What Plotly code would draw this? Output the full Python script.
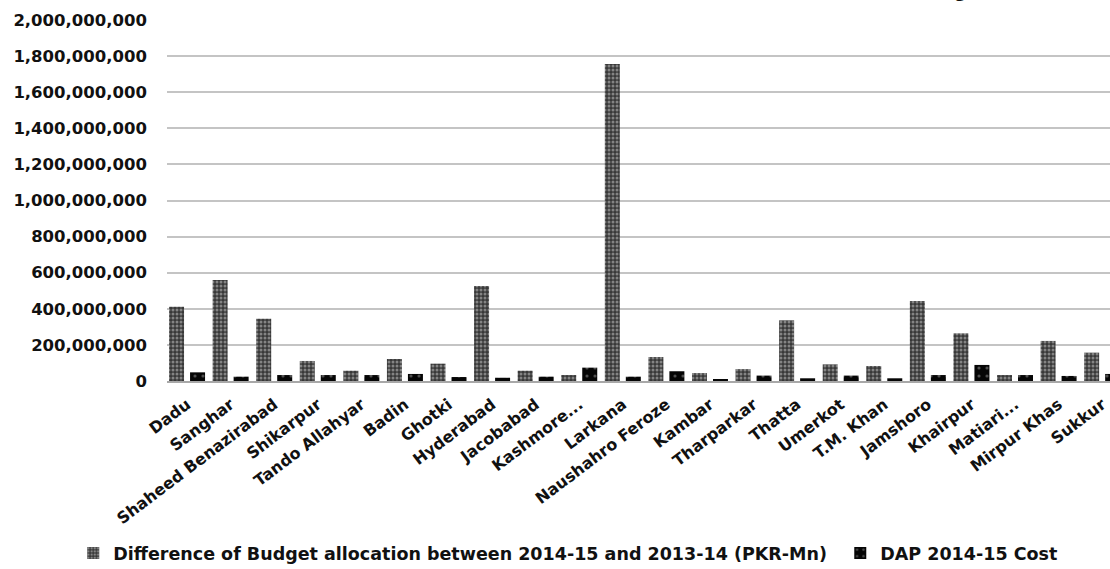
import plotly.graph_objects as go

# Districts of Sindh
districts = [
    "Dadu", "Sanghar", "Shaheed Benazirabad", "Shikarpur", "Tando Allahyar",
    "Badin", "Ghotki", "Hyderabad", "Jacobabad", "Kashmore...", "Larkana",
    "Naushahro Feroze", "Kambar", "Tharparkar", "Thatta", "Umerkot",
    "T.M. Khan", "Jamshoro", "Khairpur", "Matiari...", "Mirpur Khas", "Sukkur",
]

# Difference of budget allocation between 2014-15 and 2013-14
budget_difference = [
    411_000_000, 559_000_000, 345_000_000, 111_000_000, 57_000_000,
    122_000_000, 96_000_000, 526_000_000, 57_000_000, 33_000_000,
    1_756_000_000, 133_000_000, 44_000_000, 66_000_000, 336_000_000,
    92_000_000, 83_000_000, 443_000_000, 264_000_000, 33_000_000,
    222_000_000, 157_000_000,
]

# DAP 2014-15 cost
dap_cost = [
    48_000_000, 24_000_000, 33_000_000, 33_000_000, 33_000_000,
    39_000_000, 22_000_000, 18_000_000, 24_000_000, 74_000_000,
    24_000_000, 54_000_000, 8_000_000, 30_000_000, 15_000_000,
    30_000_000, 15_000_000, 33_000_000, 89_000_000, 33_000_000,
    28_000_000, 39_000_000,
]

y_ticks = [0, 200_000_000, 400_000_000, 600_000_000, 800_000_000,
           1_000_000_000, 1_200_000_000, 1_400_000_000, 1_600_000_000,
           1_800_000_000, 2_000_000_000]

legend_font = dict(family="DejaVu Sans", size=17.5, color="#111111", weight="bold")

fig = go.Figure()
fig.add_trace(go.Bar(
    x=list(range(len(districts))), y=budget_difference,
    name="Difference of Budget allocation between 2014-15 and 2013-14 (PKR-Mn)",
    legend="legend",
    marker=dict(color="#383838", line=dict(width=0),
                pattern=dict(shape=".", fgcolor="#d0d0d0", bgcolor="#383838",
                             size=4, solidity=0.45)),
))
fig.add_trace(go.Bar(
    x=list(range(len(districts))), y=dap_cost,
    name="DAP 2014-15 Cost",
    legend="legend2",
    marker=dict(color="#050505", line=dict(width=0),
                pattern=dict(shape=".", fgcolor="#9a9a9a", bgcolor="#050505",
                             size=8, solidity=0.12)),
))

fig.update_layout(
    width=1110, height=569,
    margin=dict(l=167, r=0, t=20, b=188, autoexpand=False),
    paper_bgcolor="white", plot_bgcolor="white",
    barmode="group", bargap=0.036, bargroupgap=0.286,
    showlegend=True,
    legend=dict(orientation="h", xref="container", yref="container",
                x=0.066, xanchor="left", y=0.028, yanchor="middle",
                font=legend_font, itemwidth=30, bgcolor="rgba(0,0,0,0)"),
    legend2=dict(orientation="h", xref="container", yref="container",
                 x=0.757, xanchor="left", y=0.028, yanchor="middle",
                 font=legend_font, itemwidth=30, bgcolor="rgba(0,0,0,0)"),
)

fig.update_xaxes(
    range=[-0.46, 21.18],
    tickmode="array", tickvals=list(range(len(districts))), ticktext=districts,
    tickangle=-37,
    tickfont=dict(family="DejaVu Sans", size=16, color="#111111", weight="bold"),
    showgrid=False, showline=True, linecolor="#a8a8a8", linewidth=2,
    ticks="", zeroline=False, ticklabelstandoff=6,
)
fig.update_yaxes(
    range=[0, 2_000_000_000],
    tickmode="array", tickvals=y_ticks,
    ticktext=[f"{v:,}" for v in y_ticks],
    tickfont=dict(family="DejaVu Sans", size=16.5, color="#111111", weight="bold"),
    showgrid=True, gridcolor="#c4c4c4", gridwidth=2,
    zeroline=False, showline=False, ticks="", ticklabelstandoff=19,
)

# Chart title, running off the top edge
fig.add_annotation(
    text="g", xref="paper", yref="paper", x=0.841, y=1.0471,
    xanchor="center", yanchor="bottom", showarrow=False,
    font=dict(family="Liberation Sans", size=24, color="#111111", weight="bold"),
)

fig.write_html("out.html")
